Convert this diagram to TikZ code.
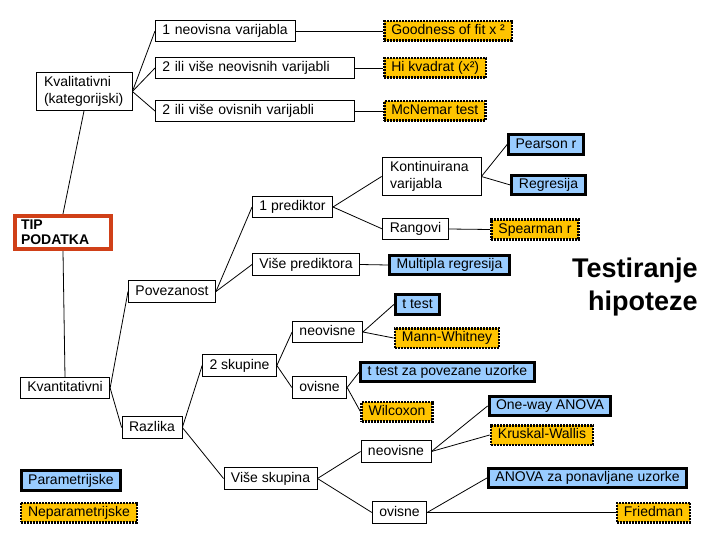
\documentclass[tikz,border=0pt]{standalone}
\usepackage{fontspec}
\setmainfont{Liberation Sans}
\definecolor{plava}{HTML}{99CCFF}
\definecolor{zuta}{HTML}{FFC400}
\definecolor{crvena}{RGB}{208,64,24}

\begin{document}
\begin{tikzpicture}[x=1pt, y=-1pt, line width=0.8pt,
  every node/.style={font=\fontsize{14}{17}\selectfont, inner xsep=7pt, inner ysep=4pt},
  red/.style={text height=10.5pt, text depth=3pt},
  box/.style={draw, fill=white, red},
  param/.style={draw, line width=3pt, fill=plava, red, inner ysep=3pt},
  neparam/.style={draw, line width=2.5pt, dash pattern=on 2pt off 1pt, fill=zuta, red, inner ysep=3pt}]

\useasboundingbox (0,0) rectangle (720,540);

\node[draw, fill=white, align=left, text width=80pt, inner xsep=8pt] (Kval) at (84,91.5) {Kvalitativni\\(kategorijski)};

\node[box, align=left, text width=126pt, anchor=west] (N1) at (155,31) {1 neovisna varijabla};
\node[box, align=left, text width=185pt, anchor=west] (N2) at (155,68) {2 ili više neovisnih varijabli};
\node[box, align=left, text width=185pt, anchor=west] (O2) at (155,111) {2 ili više ovisnih varijabli};

\node[neparam, anchor=west] (Good) at (383,31) {Goodness of fit x ²};
\node[neparam, anchor=west] (Hi) at (383,68) {Hi kvadrat (x²)};
\node[neparam, anchor=west] (McN) at (383,111) {McNemar test};

\node[draw=crvena, fill=white, line width=4pt, font=\fontsize{14}{15.5}\selectfont\bfseries, align=left, text width=84pt, inner xsep=6pt] (TIP) at (63,232.5) {TIP\\PODATKA};

\node[box] (Kvant) at (65,388) {Kvantitativni};
\node[box] (Povez) at (172,291.5) {Povezanost};
\node[box] (Razl) at (152,427.5) {Razlika};

\node[box] (P1) at (292.5,207) {1 prediktor};
\node[box] (VP) at (306,264.5) {Više prediktora};

\node[draw, fill=white, align=left, text width=83pt, inner xsep=8pt] (Kont) at (431.5,176.5) {Kontinuirana\\varijabla};
\node[box] (Rang) at (415.5,229) {Rangovi};

\node[param] (Pear) at (546,144.5) {Pearson r};
\node[param] (Regr) at (548.5,185) {Regresija};
\node[neparam] (Spear) at (535,229.5) {Spearman r};
\node[param] (Mult) at (449.5,265) {Multipla regresija};

\node[box] (Sk2) at (239.5,365.5) {2 skupine};
\node[box] (Neo) at (327.5,332) {neovisne};
\node[box] (Ovi) at (319.5,387.5) {ovisne};

\node[param] (Tt) at (417.5,304.5) {t test};
\node[neparam] (MW) at (447,338) {Mann-Whitney};
\node[param] (TtP) at (447.5,372) {t test za povezane uzorke};
\node[neparam] (Wil) at (397,411.5) {Wilcoxon};

\node[box] (VS) at (270.5,478.5) {Više skupina};
\node[box] (NeoB) at (396,451.5) {neovisne};
\node[box] (OviB) at (399.5,512.5) {ovisne};

\node[param] (OW) at (550,406) {One-way ANOVA};
\node[neparam] (KW) at (542,435) {Kruskal-Wallis};
\node[param] (AP) at (587.5,478) {ANOVA za ponavljane uzorke};
\node[neparam] (Fr) at (653.5,512.5) {Friedman};

\node[param] (Par) at (71,480.5) {Parametrijske};
\node[neparam] (Nep) at (79,512.5) {Neparametrijske};

\node[font=\fontsize{27}{33}\selectfont\bfseries, align=right, inner sep=0pt, anchor=north east] (Test) at (698,258) {Testiranje\\hipoteze};

\draw (Kval.east) -- (N1.west);
\draw (Kval.east) -- (N2.west);
\draw (Kval.east) -- (O2.west);
\draw (N1.east) -- (Good.west);
\draw (N2.east) -- (Hi.west);
\draw (O2.east) -- (McN.west);

\draw (Kval.south) -- (TIP.north);
\draw (TIP.south) -- (Kvant.north);

\draw (Kvant.east) -- (Povez.west);
\draw (Kvant.east) -- (Razl.west);

\draw (Povez.east) -- (P1.west);
\draw (Povez.east) -- (VP.west);
\draw (P1.east) -- (Kont.west);
\draw (P1.east) -- (Rang.west);
\draw (Kont.east) -- (Pear.west);
\draw (Kont.east) -- (Regr.west);
\draw (Rang.east) -- (Spear.west);
\draw (VP.east) -- (Mult.west);

\draw (Razl.east) -- (Sk2.west);
\draw (Razl.east) -- (VS.west);
\draw (Sk2.east) -- (Neo.west);
\draw (Sk2.east) -- (Ovi.west);
\draw (Neo.east) -- (Tt.west);
\draw (Neo.east) -- (MW.west);
\draw (Ovi.east) -- (TtP.west);
\draw (Ovi.east) -- (Wil.west);

\draw (VS.east) -- (NeoB.west);
\draw (VS.east) -- (OviB.west);
\draw (NeoB.east) -- (OW.west);
\draw (NeoB.east) -- (KW.west);
\draw (OviB.east) -- (AP.west);
\draw (OviB.east) -- (Fr.west);

\end{tikzpicture}
\end{document}
